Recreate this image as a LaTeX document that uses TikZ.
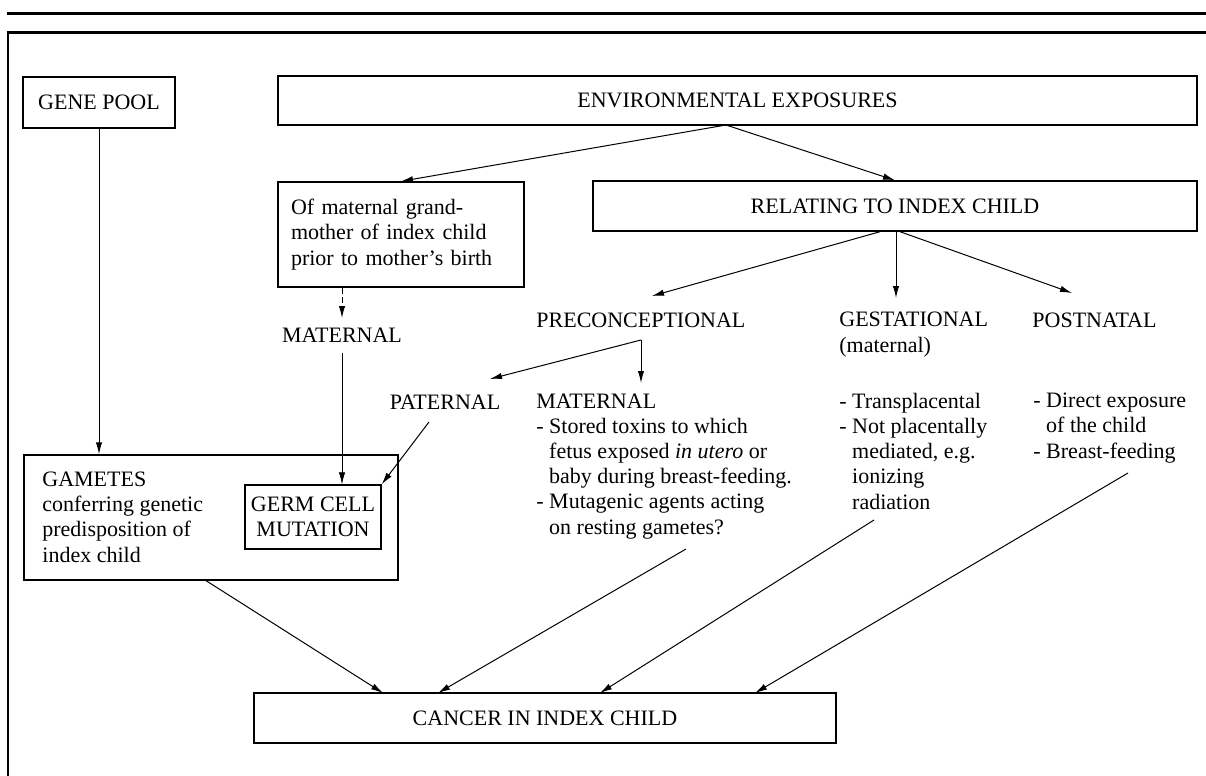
\documentclass[tikz,border=0pt]{standalone}
\usepackage{fontspec}
\setmainfont{Liberation Serif}
\usetikzlibrary{arrows.meta}
\newcommand\dfont{\fontsize{11pt}{12.6pt}\selectfont}
\begin{document}
\begin{tikzpicture}[x=0.5pt,y=-0.5pt,
  box/.style={draw, line width=0.7pt, inner sep=0pt, font=\dfont},
  lbl/.style={inner sep=0pt, font=\dfont, align=left},
  arr/.style={line width=0.5pt, -{Latex[length=6pt,width=3.2pt]}},
  frameline/.style={line width=1.5pt}]
\useasboundingbox (0,0) rectangle (1206,776);
% outer frame
\coordinate (fa) at (7,13);   \coordinate (fb) at (1206,13);
\coordinate (fc) at (7,32);   \coordinate (fd) at (1206,32);
\coordinate (fe) at (8,32);   \coordinate (ff) at (8,776);
\draw[frameline] (fa) -- (fb);
\draw[frameline] (fc) -- (fd);
\draw[line width=1.1pt] (fe) -- (ff);
% boxes
\node[box, minimum width=76pt, minimum height=25.5pt] (genepool) at (99,102.5) {GENE POOL};
\node[box, minimum width=459.5pt, minimum height=24.5pt] (env) at (737.5,100.5) {ENVIRONMENTAL EXPOSURES};
\node[box, minimum height=52.5pt, text width=110pt, inner xsep=6.5pt, align=left] (grand) at (401,234.5)
  {Of maternal grand-\\mother of index child\\prior to mother's birth};
\node[box, minimum width=302pt, minimum height=25pt] (relating) at (895,206) {RELATING TO INDEX CHILD};
\node[box, minimum width=187pt, minimum height=62.5pt] (gametes) at (211,517.5) {};
\node[lbl, anchor=base west] (gtext) at (42,562)
  {GAMETES\\conferring genetic\\predisposition of\\index child};
\node[box, minimum width=68pt, minimum height=32pt, align=center] (germ) at (313,517) {GERM CELL\\MUTATION};
\node[box, minimum width=291pt, minimum height=25pt] (cancer) at (545,718) {CANCER IN INDEX CHILD};
% labels (base anchor = baseline of last line)
\node[lbl] (mat1) at (342,335) {MATERNAL};
\node[lbl] (pat) at (445,402) {PATERNAL};
\node[lbl, anchor=base west] (precon) at (536,327) {PRECONCEPTIONAL};
\node[lbl, anchor=base west] (gest) at (839,352) {GESTATIONAL\\(maternal)};
\node[lbl, anchor=base west] (post) at (1032,327) {POSTNATAL};
\node[lbl, anchor=base west] (mat2) at (536,534)
  {MATERNAL\\- Stored toxins to which\\\hphantom{- }fetus exposed \textit{in utero} or\\\hphantom{- }baby during breast-feeding.\\- Mutagenic agents acting\\\hphantom{- }on resting gametes?};
\node[lbl, anchor=base west] (gestx) at (839,509)
  {- Transplacental\\- Not placentally\\\hphantom{- }mediated, e.g.\\\hphantom{- }ionizing\\\hphantom{- }radiation};
\node[lbl, anchor=base west] (postx) at (1033,458)
  {- Direct exposure\\\hphantom{- }of the child\\- Breast-feeding};
% connector ends
\coordinate (envp) at (726,125);
\coordinate (t4) at (342,318);
\coordinate (s5) at (342,353);
\coordinate (t6) at (652,296);
\coordinate (t7) at (896,298);
\coordinate (t8) at (1072,293);
\coordinate (pc) at (641,340);
\coordinate (t9a) at (490,379);
\coordinate (t9b) at (641,383);
\coordinate (s10) at (429,422);
\coordinate (s11) at (205,580);
\coordinate (t11) at (383,693);
\coordinate (s12) at (686,549);
\coordinate (t12) at (438,693);
\coordinate (s13) at (874,520);
\coordinate (t13) at (600,693);
\coordinate (s14) at (1128,473);
\coordinate (t14) at (755,693);
% connectors
\draw[arr] (genepool.south) -- (genepool.south |- gametes.north);
\draw[arr] (envp) -- (grand.north);
\draw[arr] (envp) -- (relating.north);
\draw[arr, dash pattern=on 3pt off 1.5pt] (grand.south -| t4) -- (t4);
\draw[arr, line width=0.35pt] (s5) -- (s5 |- germ.north);
\draw[arr] ([xshift=-7.5pt]relating.south) -- (t6);
\draw[arr] (relating.south -| t7) -- (t7);
\draw[arr] ([xshift=2.5pt]relating.south) -- (t8);
\draw[arr] (pc) -- (t9a);
\draw[arr] (pc) -- (t9b);
\draw[arr] (s10) -- (germ.north east);
\draw[arr] (s11) -- (t11);
\draw[arr] (s12) -- (t12);
\draw[arr] (s13) -- (t13);
\draw[arr] (s14) -- (t14);
\end{tikzpicture}
\end{document}
